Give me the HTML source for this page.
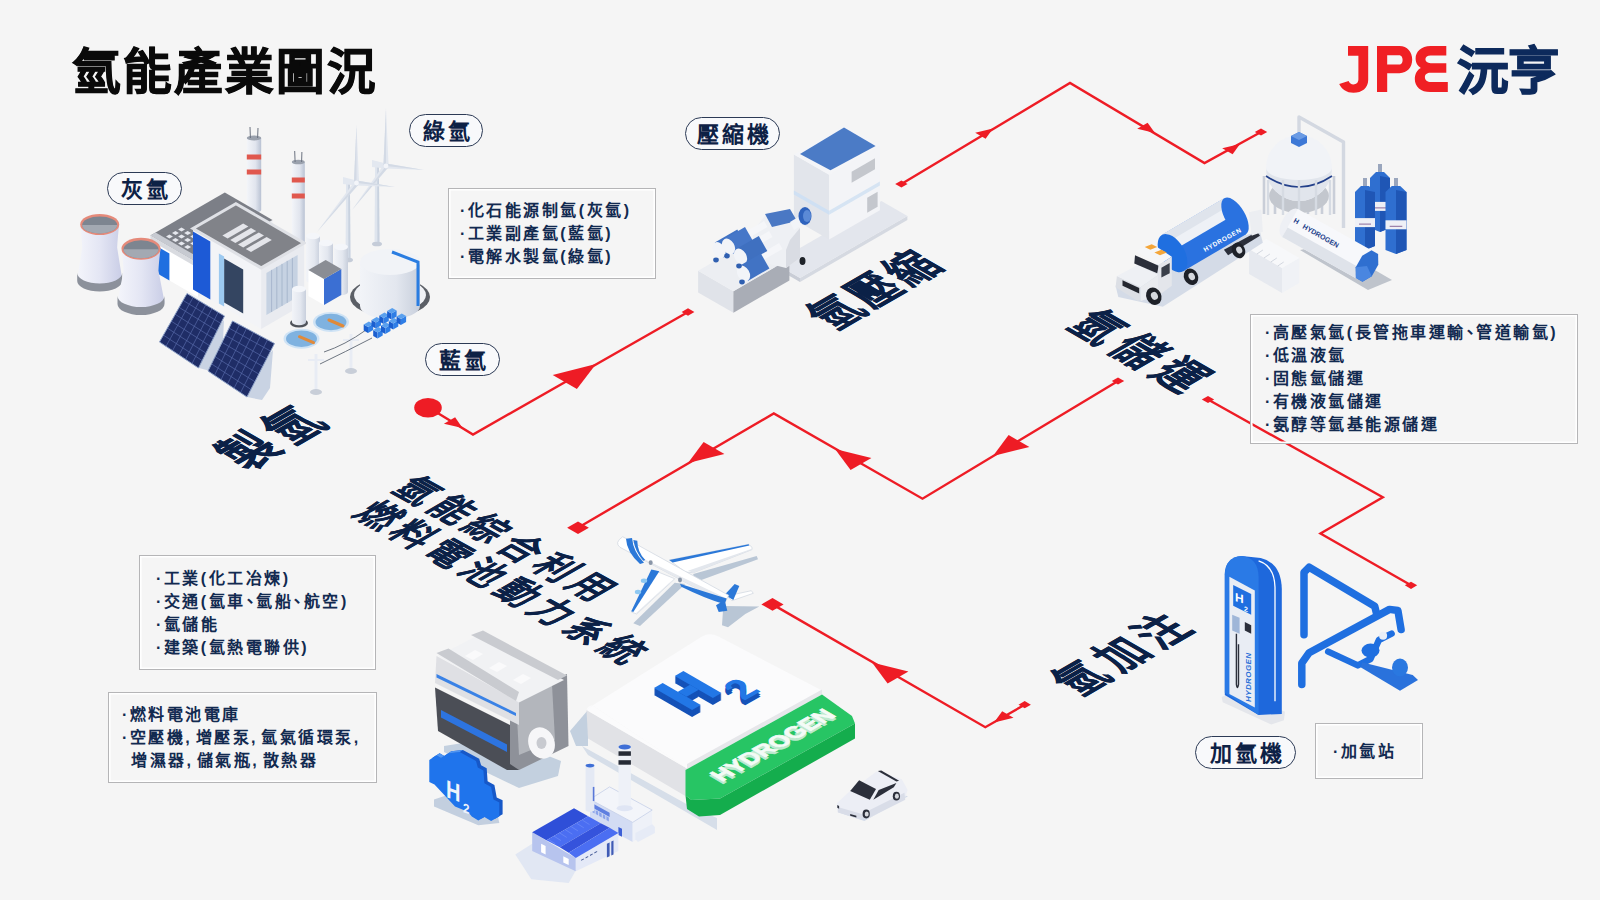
<!DOCTYPE html>
<html lang="zh-HK">
<head>
<meta charset="utf-8">
<style>
html,body{margin:0;padding:0;}
body{width:1600px;height:900px;overflow:hidden;background:#f5f5f5;position:relative;font-family:"Liberation Sans",sans-serif;}
.abs{position:absolute;}
#title{position:absolute;left:72px;top:47.5px;font-size:48.5px;font-weight:900;color:#0a0a0a;letter-spacing:2.1px;-webkit-text-stroke:0.9px #0a0a0a;line-height:1;white-space:nowrap;}
.pill{position:absolute;box-sizing:border-box;border:1.6px solid #2c3a55;border-radius:17px;background:#f8f9fb;color:#0d2145;font-weight:700;font-size:22px;letter-spacing:3px;line-height:1;display:flex;align-items:center;justify-content:center;white-space:nowrap;padding-left:3px;padding-top:2px;}
.box{position:absolute;box-sizing:border-box;border:1.3px solid #b5b5b7;box-shadow:inset 0 0 0 1.6px #ffffff;color:#122a50;font-weight:700;font-size:16px;letter-spacing:2.5px;line-height:23px;white-space:nowrap;}
.box .l{position:relative;}
.box .c{letter-spacing:5.8px;}
.box .d{margin-left:-4px;margin-right:-3.9px;}
.iso{position:absolute;left:0;top:0;transform-origin:0 0;color:#0b2147;font-weight:900;white-space:nowrap;line-height:1;-webkit-text-stroke:0.3px #0b2147;}
svg{position:absolute;left:0;top:0;}
</style>
</head>
<body>
<svg id="art" width="1600" height="900" viewBox="0 0 1600 900">
<!--ART-->
<defs>
<linearGradient id="gTower" x1="0" x2="1" y1="0" y2="0"><stop offset="0" stop-color="#f4f5fb"/><stop offset="0.5" stop-color="#e4e6f4"/><stop offset="1" stop-color="#c9cde6"/></linearGradient>
<linearGradient id="gCyl" x1="0" x2="1" y1="0" y2="0"><stop offset="0" stop-color="#f2f4f8"/><stop offset="0.6" stop-color="#e3e7ef"/><stop offset="1" stop-color="#c8cfdc"/></linearGradient>
<linearGradient id="gChim" x1="0" x2="1" y1="0" y2="0"><stop offset="0" stop-color="#f3f5f9"/><stop offset="0.6" stop-color="#e1e5ee"/><stop offset="1" stop-color="#b9c2d3"/></linearGradient>
<linearGradient id="gBlueCyl" x1="0" x2="1" y1="0" y2="0"><stop offset="0" stop-color="#3f86e8"/><stop offset="0.5" stop-color="#1f6fe0"/><stop offset="1" stop-color="#1656b8"/></linearGradient>
<linearGradient id="gGreen" x1="0" x2="1" y1="0" y2="0"><stop offset="0" stop-color="#2ecc71"/><stop offset="1" stop-color="#1fb863"/></linearGradient>
</defs>
<path d="M375.1,166.0 L374.5,244.0 L379.5,244.0 L378.9,166.0 Z" fill="#dfe5ee" />
<path d="M377.2,166.0 L377.4,244.0 L379.5,244.0 L378.9,166.0 Z" fill="#c9d2df" />
<ellipse cx="377.0" cy="244.0" rx="5.0" ry="2.3" fill="#c5ccd8" />
<polygon points="372.0,160.0 386.0,163.5 386.0,168.5 372.0,167.0" fill="#e3e8f0" />
<polygon points="388.6,166.0 386.0,108.0 383.4,166.0" fill="#e2e7ef" />
<polygon points="386.0,166.0 386.0,108.0 383.4,166.0" fill="#d3dae5" />
<polygon points="385.7,168.6 424.0,170.0 386.3,163.4" fill="#e2e7ef" />
<polygon points="386.0,166.0 424.0,170.0 386.3,163.4" fill="#d3dae5" />
<polygon points="383.9,164.4 352.0,210.0 388.1,167.6" fill="#e2e7ef" />
<polygon points="386.0,166.0 352.0,210.0 388.1,167.6" fill="#d3dae5" />
<ellipse cx="386.0" cy="166.0" rx="2.4" ry="2.4" fill="#f3f5f9" />
<path d="M346.1,183.0 L345.5,260.0 L350.5,260.0 L349.9,183.0 Z" fill="#dfe5ee" />
<path d="M348.2,183.0 L348.4,260.0 L350.5,260.0 L349.9,183.0 Z" fill="#c9d2df" />
<ellipse cx="348.0" cy="260.0" rx="5.0" ry="2.3" fill="#c5ccd8" />
<polygon points="343.0,177.0 356.5,180.5 356.5,185.5 343.0,184.0" fill="#e3e8f0" />
<polygon points="359.1,183.0 356.5,125.0 353.9,183.0" fill="#e2e7ef" />
<polygon points="356.5,183.0 356.5,125.0 353.9,183.0" fill="#d3dae5" />
<polygon points="356.2,185.6 395.0,187.0 356.8,180.4" fill="#e2e7ef" />
<polygon points="356.5,183.0 395.0,187.0 356.8,180.4" fill="#d3dae5" />
<polygon points="354.5,181.4 317.0,232.0 358.5,184.6" fill="#e2e7ef" />
<polygon points="356.5,183.0 317.0,232.0 358.5,184.6" fill="#d3dae5" />
<ellipse cx="356.5" cy="183.0" rx="2.4" ry="2.4" fill="#f3f5f9" />
<path d="M246.8,138.0 L246.8,210.0 A7.2,2.5 0 0 0 261.2,210.0 L261.2,138.0 Z" fill="url(#gChim)" />
<ellipse cx="254.0" cy="138.0" rx="7.2" ry="2.5" fill="#9aa1ad" />
<rect x="246.8" y="154.5" width="14.4" height="5.0" fill="#e0584e"/>
<rect x="246.8" y="169.5" width="14.4" height="5.0" fill="#e0584e"/>
<line x1="250.4" y1="138.0" x2="250.0" y2="127.0" stroke="#6b7280" stroke-width="1" />
<line x1="257.6" y1="138.0" x2="258.0" y2="128.0" stroke="#6b7280" stroke-width="1" />
<path d="M291.8,162.0 L291.8,242.0 A6.5,2.3 0 0 0 304.8,242.0 L304.8,162.0 Z" fill="url(#gChim)" />
<ellipse cx="298.3" cy="162.0" rx="6.5" ry="2.3" fill="#9aa1ad" />
<rect x="291.8" y="177.5" width="13.0" height="5.0" fill="#e0584e"/>
<rect x="291.8" y="193.5" width="13.0" height="5.0" fill="#e0584e"/>
<line x1="295.1" y1="162.0" x2="294.7" y2="151.0" stroke="#6b7280" stroke-width="1" />
<line x1="301.6" y1="162.0" x2="301.9" y2="152.0" stroke="#6b7280" stroke-width="1" />
<polygon points="150.4,235.5 198.0,263.0 198.0,297.0 150.4,269.5" fill="#ffffff" />
<polygon points="198.0,263.0 272.5,220.0 272.5,254.0 198.0,297.0" fill="#eceef3" />
<polygon points="198.0,263.0 150.4,235.5 224.8,192.5 272.5,220.0" fill="#7c7f87" />
<polygon points="150.4,235.5 198.0,263.0 203.2,260.0 155.6,232.5" fill="#c7cad1" />
<polygon points="155.6,245.5 169.4,253.5 169.4,280.5 155.6,272.5" fill="#1f6fe0" />
<polygon points="150.4,235.5 198.0,263.0 198.0,268.0 150.4,240.5" fill="#d9dbe0" />
<polygon points="166.0,236.5 169.4,234.5 172.9,236.5 169.4,238.5" fill="#e6e8ee" />
<polygon points="172.0,233.0 175.5,231.0 178.9,233.0 175.5,235.0" fill="#e6e8ee" />
<polygon points="178.1,229.5 181.5,227.5 185.0,229.5 181.5,231.5" fill="#e6e8ee" />
<polygon points="172.0,240.0 175.5,238.0 178.9,240.0 175.5,242.0" fill="#e6e8ee" />
<polygon points="178.1,236.5 181.5,234.5 185.0,236.5 181.5,238.5" fill="#e6e8ee" />
<polygon points="184.1,233.0 187.6,231.0 191.1,233.0 187.6,235.0" fill="#e6e8ee" />
<polygon points="178.1,243.5 181.5,241.5 185.0,243.5 181.5,245.5" fill="#e6e8ee" />
<polygon points="184.1,240.0 187.6,238.0 191.1,240.0 187.6,242.0" fill="#e6e8ee" />
<polygon points="190.2,236.5 193.7,234.5 197.1,236.5 193.7,238.5" fill="#e6e8ee" />
<polygon points="184.1,247.0 187.6,245.0 191.1,247.0 187.6,249.0" fill="#e6e8ee" />
<polygon points="190.2,243.5 193.7,241.5 197.1,243.5 193.7,245.5" fill="#e6e8ee" />
<polygon points="196.3,240.0 199.7,238.0 203.2,240.0 199.7,242.0" fill="#e6e8ee" />
<polygon points="193.0,228.5 261.2,267.9 261.2,328.9 193.0,289.5" fill="#f3f4f7" />
<polygon points="261.2,267.9 304.2,243.1 304.2,304.1 261.2,328.9" fill="#e9ebf0" />
<polygon points="261.2,267.9 193.0,228.5 235.9,203.7 304.2,243.1" fill="#818389" />
<polygon points="193.0,228.5 261.2,267.9 304.2,243.1 235.9,203.7" fill="none" stroke="#dfe1e6" stroke-width="3"/>
<polygon points="222.4,235.5 243.2,223.5 248.4,226.5 227.6,238.5" fill="#e4e5ea" />
<polygon points="230.2,240.0 251.0,228.0 256.2,231.0 235.4,243.0" fill="#e4e5ea" />
<polygon points="238.0,244.5 258.8,232.5 264.0,235.5 243.2,247.5" fill="#e4e5ea" />
<polygon points="245.8,249.0 266.6,237.0 271.8,240.0 251.0,252.0" fill="#e4e5ea" />
<polygon points="193.0,231.5 210.3,241.5 210.3,299.5 193.0,289.5" fill="#1d5ad6" />
<polygon points="224.1,258.5 243.2,269.5 243.2,313.5 224.1,302.5" fill="#344561" />
<polygon points="218.9,253.5 224.1,256.5 224.1,306.5 218.9,303.5" fill="#9cc9f0" />
<polygon points="266.4,272.9 297.6,254.9 297.6,296.9 266.4,314.9" fill="#c6d2e2" />
<line x1="271.6" y1="269.9" x2="271.6" y2="311.9" stroke="#9fb0c8" stroke-width="0.8" />
<line x1="276.8" y1="266.9" x2="276.8" y2="308.9" stroke="#9fb0c8" stroke-width="0.8" />
<line x1="282.0" y1="263.9" x2="282.0" y2="305.9" stroke="#9fb0c8" stroke-width="0.8" />
<line x1="287.2" y1="260.9" x2="287.2" y2="302.9" stroke="#9fb0c8" stroke-width="0.8" />
<line x1="292.4" y1="257.9" x2="292.4" y2="299.9" stroke="#9fb0c8" stroke-width="0.8" />
<path d="M306.0,236.0 L306.0,280.0 A7.0,3.2 0 0 0 320.0,280.0 L320.0,236.0 Z" fill="url(#gCyl)" />
<ellipse cx="313.0" cy="236.0" rx="7.0" ry="3.2" fill="#f4f6fa" />
<path d="M319.0,243.0 L319.0,287.0 A7.0,3.2 0 0 0 333.0,287.0 L333.0,243.0 Z" fill="url(#gCyl)" />
<ellipse cx="326.0" cy="243.0" rx="7.0" ry="3.2" fill="#f4f6fa" />
<path d="M334.0,247.0 L334.0,292.0 A7.0,3.2 0 0 0 348.0,292.0 L348.0,247.0 Z" fill="url(#gCyl)" />
<ellipse cx="341.0" cy="247.0" rx="7.0" ry="3.2" fill="#f4f6fa" />
<polygon points="308.4,270.0 324.0,279.0 324.0,305.0 308.4,296.0" fill="#ffffff" />
<polygon points="324.0,279.0 341.3,269.0 341.3,295.0 324.0,305.0" fill="#3b6fd3" />
<polygon points="324.0,279.0 308.4,270.0 325.7,260.0 341.3,269.0" fill="#8a8d94" />
<ellipse cx="390.0" cy="297.0" rx="40.0" ry="19.5" fill="#5b5f66" />
<ellipse cx="390.0" cy="295.0" rx="36.0" ry="17.0" fill="#f0f2f6" />
<path d="M360.0,262.0 L360.0,306.0 A30.0,13.0 0 0 0 420.0,306.0 L420.0,262.0 Z" fill="url(#gCyl)" />
<ellipse cx="390.0" cy="262.0" rx="30.0" ry="13.0" fill="#f1f3f7" />
<path d="M392,252 L418,262 L418,306" fill="none" stroke="#2a7de1" stroke-width="3"/>
<ellipse cx="299.0" cy="323.0" rx="9.0" ry="4.5" fill="#4f535a" />
<path d="M292.0,289.0 L292.0,322.0 A7.0,3.2 0 0 0 306.0,322.0 L306.0,289.0 Z" fill="url(#gCyl)" />
<ellipse cx="299.0" cy="289.0" rx="7.0" ry="3.2" fill="#f4f6fa" />
<path d="M80.2,224.5 C82.2,242.0 82.2,248.0 82.2,248.0 L77.2,279.0 A22.5,10.5 0 0 0 122.2,279.0 L117.2,248.0 C117.2,248.0 117.2,242.0 119.2,224.5 Z" fill="url(#gTower)" />
<path d="M77.2,273.0 L77.2,281.0 A22.5,10.5 0 0 0 122.2,281.0 L122.2,273.0 A22.5,10.5 0 0 1 77.2,273.0 Z" fill="#8c919b"/>
<ellipse cx="99.7" cy="224.5" rx="19.5" ry="10.5" fill="#e58a7a" />
<ellipse cx="99.7" cy="225.0" rx="17.5" ry="8.5" fill="#7d8590" />
<path d="M82.2,225.0 A17.5,8.5 0 0 0 117.2,225.0 Z" fill="#a3a9b2"/>
<path d="M121.5,248.8 C123.5,265.0 123.5,271.0 123.5,271.0 L117.5,302.0 A23.5,11.0 0 0 0 164.5,302.0 L158.5,271.0 C158.5,271.0 158.5,265.0 160.5,248.8 Z" fill="url(#gTower)" />
<path d="M117.5,296.0 L117.5,304.0 A23.5,11.0 0 0 0 164.5,304.0 L164.5,296.0 A23.5,11.0 0 0 1 117.5,296.0 Z" fill="#8c919b"/>
<ellipse cx="141.0" cy="248.8" rx="19.5" ry="11.0" fill="#e58a7a" />
<ellipse cx="141.0" cy="249.3" rx="17.5" ry="9.0" fill="#7d8590" />
<path d="M123.5,249.3 A17.5,9.0 0 0 0 158.5,249.3 Z" fill="#a3a9b2"/>
<polygon points="160.0,342.0 199.0,368.0 214.0,372.0 222.0,360.0 224.0,320.0 215.0,330.0" fill="#c9d3e3" />
<polygon points="187.0,293.5 224.5,316.0 198.5,368.0 159.5,342.0" fill="#1f2d66" />
<line x1="193.2" y1="297.2" x2="166.0" y2="346.3" stroke="#5668a8" stroke-width="0.7" />
<line x1="199.5" y1="301.0" x2="172.5" y2="350.7" stroke="#5668a8" stroke-width="0.7" />
<line x1="205.8" y1="304.8" x2="179.0" y2="355.0" stroke="#5668a8" stroke-width="0.7" />
<line x1="212.0" y1="308.5" x2="185.5" y2="359.3" stroke="#5668a8" stroke-width="0.7" />
<line x1="218.2" y1="312.2" x2="192.0" y2="363.7" stroke="#5668a8" stroke-width="0.7" />
<line x1="183.1" y1="300.4" x2="220.8" y2="323.4" stroke="#5668a8" stroke-width="0.7" />
<line x1="179.1" y1="307.4" x2="217.1" y2="330.9" stroke="#5668a8" stroke-width="0.7" />
<line x1="175.2" y1="314.3" x2="213.4" y2="338.3" stroke="#5668a8" stroke-width="0.7" />
<line x1="171.3" y1="321.2" x2="209.6" y2="345.7" stroke="#5668a8" stroke-width="0.7" />
<line x1="167.4" y1="328.1" x2="205.9" y2="353.1" stroke="#5668a8" stroke-width="0.7" />
<line x1="163.4" y1="335.1" x2="202.2" y2="360.6" stroke="#5668a8" stroke-width="0.7" />
<polygon points="187.0,293.5 224.5,316.0 198.5,368.0 159.5,342.0" fill="none" stroke="#8fa3c9" stroke-width="1"/>
<polygon points="208.0,371.0 247.0,397.0 262.0,400.0 270.0,388.0 273.0,350.0 262.0,362.0" fill="#c9d3e3" />
<polygon points="232.5,321.0 274.5,343.5 247.0,397.0 208.0,371.0" fill="#1f2d66" />
<line x1="239.5" y1="324.8" x2="214.5" y2="375.3" stroke="#5668a8" stroke-width="0.7" />
<line x1="246.5" y1="328.5" x2="221.0" y2="379.7" stroke="#5668a8" stroke-width="0.7" />
<line x1="253.5" y1="332.2" x2="227.5" y2="384.0" stroke="#5668a8" stroke-width="0.7" />
<line x1="260.5" y1="336.0" x2="234.0" y2="388.3" stroke="#5668a8" stroke-width="0.7" />
<line x1="267.5" y1="339.8" x2="240.5" y2="392.7" stroke="#5668a8" stroke-width="0.7" />
<line x1="229.0" y1="328.1" x2="270.6" y2="351.1" stroke="#5668a8" stroke-width="0.7" />
<line x1="225.5" y1="335.3" x2="266.6" y2="358.8" stroke="#5668a8" stroke-width="0.7" />
<line x1="222.0" y1="342.4" x2="262.7" y2="366.4" stroke="#5668a8" stroke-width="0.7" />
<line x1="218.5" y1="349.6" x2="258.8" y2="374.1" stroke="#5668a8" stroke-width="0.7" />
<line x1="215.0" y1="356.7" x2="254.9" y2="381.7" stroke="#5668a8" stroke-width="0.7" />
<line x1="211.5" y1="363.9" x2="250.9" y2="389.4" stroke="#5668a8" stroke-width="0.7" />
<polygon points="232.5,321.0 274.5,343.5 247.0,397.0 208.0,371.0" fill="none" stroke="#8fa3c9" stroke-width="1"/>
<ellipse cx="301.5" cy="338.7" rx="18.0" ry="10.0" fill="#cfe3f5" />
<ellipse cx="301.5" cy="338.7" rx="15.5" ry="8.3" fill="#7fb2e0" />
<line x1="299.5" y1="336.7" x2="313.5" y2="342.7" stroke="#e08a3a" stroke-width="3" stroke-linecap="round"/>
<ellipse cx="331.0" cy="322.0" rx="18.0" ry="10.0" fill="#cfe3f5" />
<ellipse cx="331.0" cy="322.0" rx="15.5" ry="8.3" fill="#7fb2e0" />
<line x1="329.0" y1="320.0" x2="343.0" y2="326.0" stroke="#e08a3a" stroke-width="3" stroke-linecap="round"/>
<line x1="316.0" y1="354.0" x2="316.0" y2="392.0" stroke="#e8ecf4" stroke-width="3" />
<line x1="308.0" y1="360.0" x2="324.0" y2="360.0" stroke="#e8ecf4" stroke-width="2" />
<ellipse cx="316.0" cy="392.0" rx="6.0" ry="3.0" fill="#c8ced8" />
<line x1="351.0" y1="334.0" x2="351.0" y2="371.0" stroke="#e8ecf4" stroke-width="3" />
<line x1="343.0" y1="340.0" x2="359.0" y2="340.0" stroke="#e8ecf4" stroke-width="2" />
<ellipse cx="351.0" cy="371.0" rx="6.0" ry="3.0" fill="#c8ced8" />
<path d="M324,352 Q345,345 366,330" fill="none" stroke="#4b5563" stroke-width="0.8"/>
<path d="M320,364 Q345,352 372,338" fill="none" stroke="#4b5563" stroke-width="0.8"/>
<polygon points="363.7,324.5 368.0,327.0 368.0,333.0 363.7,330.5" fill="#1b5fd0" />
<polygon points="368.0,327.0 373.2,324.0 373.2,330.0 368.0,333.0" fill="#2f7ee6" />
<polygon points="368.0,327.0 363.7,324.5 368.9,321.5 373.2,324.0" fill="#5aa0ee" />
<polygon points="373.2,330.0 377.5,332.5 377.5,338.5 373.2,336.0" fill="#1b5fd0" />
<polygon points="377.5,332.5 382.7,329.5 382.7,335.5 377.5,338.5" fill="#2f7ee6" />
<polygon points="377.5,332.5 373.2,330.0 378.4,327.0 382.7,329.5" fill="#5aa0ee" />
<polygon points="371.5,320.0 375.8,322.5 375.8,328.5 371.5,326.0" fill="#1b5fd0" />
<polygon points="375.8,322.5 381.0,319.5 381.0,325.5 375.8,328.5" fill="#2f7ee6" />
<polygon points="375.8,322.5 371.5,320.0 376.7,317.0 381.0,319.5" fill="#5aa0ee" />
<polygon points="381.0,325.5 385.3,328.0 385.3,334.0 381.0,331.5" fill="#1b5fd0" />
<polygon points="385.3,328.0 390.5,325.0 390.5,331.0 385.3,334.0" fill="#2f7ee6" />
<polygon points="385.3,328.0 381.0,325.5 386.2,322.5 390.5,325.0" fill="#5aa0ee" />
<polygon points="379.3,315.5 383.6,318.0 383.6,324.0 379.3,321.5" fill="#1b5fd0" />
<polygon points="383.6,318.0 388.8,315.0 388.8,321.0 383.6,324.0" fill="#2f7ee6" />
<polygon points="383.6,318.0 379.3,315.5 384.5,312.5 388.8,315.0" fill="#5aa0ee" />
<polygon points="388.8,321.0 393.1,323.5 393.1,329.5 388.8,327.0" fill="#1b5fd0" />
<polygon points="393.1,323.5 398.3,320.5 398.3,326.5 393.1,329.5" fill="#2f7ee6" />
<polygon points="393.1,323.5 388.8,321.0 394.0,318.0 398.3,320.5" fill="#5aa0ee" />
<polygon points="387.1,311.0 391.4,313.5 391.4,319.5 387.1,317.0" fill="#1b5fd0" />
<polygon points="391.4,313.5 396.6,310.5 396.6,316.5 391.4,319.5" fill="#2f7ee6" />
<polygon points="391.4,313.5 387.1,311.0 392.2,308.0 396.6,310.5" fill="#5aa0ee" />
<polygon points="396.6,316.5 400.9,319.0 400.9,325.0 396.6,322.5" fill="#1b5fd0" />
<polygon points="400.9,319.0 406.1,316.0 406.1,322.0 400.9,325.0" fill="#2f7ee6" />
<polygon points="400.9,319.0 396.6,316.5 401.8,313.5 406.1,316.0" fill="#5aa0ee" />
<polygon points="774.0,263.0 800.0,278.0 800.0,282.0 774.0,267.0" fill="#c9cdd6" />
<polygon points="800.0,278.0 907.4,216.0 907.4,220.0 800.0,282.0" fill="#d5d9e1" />
<polygon points="800.0,278.0 774.0,263.0 881.4,201.0 907.4,216.0" fill="#e3e6ed" />
<polygon points="793.9,154.5 829.1,174.8 829.1,239.5 793.9,219.2" fill="#e2e5eb" />
<polygon points="829.1,174.8 879.9,145.5 879.9,210.2 829.1,239.5" fill="#f3f4f7" />
<polygon points="829.1,174.8 793.9,154.5 844.8,125.2 879.9,145.5" fill="#f4f5f8" />
<polygon points="800.0,153.9 830.5,170.3 875.6,145.9 844.0,127.6" fill="#4b7bc6" />
<polygon points="793.9,190.5 829.1,210.8 829.1,214.8 793.9,194.5" fill="#cfe0f3" />
<polygon points="829.1,210.8 879.9,181.5 879.9,185.5 829.1,214.8" fill="#d6e4f3" />
<polygon points="851.6,171.8 875.0,158.3 875.0,169.3 851.6,182.8" fill="#c4c7cd" />
<polygon points="867.2,197.8 877.6,191.8 877.6,206.8 867.2,212.8" fill="#c4c7cd" />
<polygon points="698.1,270.8 733.4,291.2 733.4,312.8 698.1,292.4" fill="#e0e3e9" />
<polygon points="733.4,291.2 789.4,258.8 789.4,280.4 733.4,312.8" fill="#a9adb6" />
<polygon points="733.4,291.2 698.1,270.8 754.1,238.5 789.4,258.8" fill="#eceef2" />
<polygon points="753.0,231.0 768.0,212.0 790.0,214.0 800.0,228.0 800.0,258.0 786.0,268.0 762.0,262.0 753.0,248.0" fill="#eef0f4" />
<polygon points="786.0,268.0 800.0,258.0 800.0,228.0 790.0,240.0 786.0,250.0" fill="#d9dce3" />
<polygon points="765.0,214.0 790.0,209.0 797.0,221.0 772.0,227.0" fill="#4a78c4" />
<polygon points="790.0,222.0 805.0,213.0 809.0,221.0 794.0,230.0" fill="#f2f4f8" />
<ellipse cx="805.0" cy="216.0" rx="6.5" ry="9.0" fill="#2f63bd" />
<ellipse cx="807.0" cy="216.0" rx="4.0" ry="6.0" fill="#5b8ad6" />
<ellipse cx="802.5" cy="261.0" rx="3.0" ry="4.0" fill="#1f2329" />
<polygon points="743.3,233.1 764.1,221.1 767.5,226.9 746.7,238.9" fill="#f5f6f9" />
<ellipse cx="745.0" cy="236.0" rx="2.4" ry="3.4" fill="#dfe2e8" transform="rotate(-30 745.0 236.0)"/>
<polygon points="748.3,243.1 769.1,231.1 772.5,236.9 751.7,248.9" fill="#f5f6f9" />
<ellipse cx="750.0" cy="246.0" rx="2.4" ry="3.4" fill="#dfe2e8" transform="rotate(-30 750.0 246.0)"/>
<polygon points="758.3,255.1 779.1,243.1 782.5,248.9 761.7,260.9" fill="#f5f6f9" />
<ellipse cx="760.0" cy="258.0" rx="2.4" ry="3.4" fill="#dfe2e8" transform="rotate(-30 760.0 258.0)"/>
<polygon points="714.8,242.6 737.3,229.6 745.8,244.4 723.2,257.4" fill="#4173c4" />
<ellipse cx="719.0" cy="250.0" rx="5.9" ry="8.5" fill="#f2f4f8" transform="rotate(-30 719.0 250.0)"/>
<polygon points="724.2,239.1 745.0,227.1 753.5,241.9 732.8,253.9" fill="#4677c8" />
<ellipse cx="728.5" cy="246.5" rx="5.9" ry="8.5" fill="#f2f4f8" transform="rotate(-30 728.5 246.5)"/>
<polygon points="736.2,249.1 758.8,236.1 767.3,250.9 744.8,263.9" fill="#3f70c0" />
<ellipse cx="740.5" cy="256.5" rx="5.9" ry="8.5" fill="#f2f4f8" transform="rotate(-30 740.5 256.5)"/>
<polygon points="739.2,266.1 760.9,253.6 769.4,268.4 747.8,280.9" fill="#4173c4" />
<ellipse cx="743.5" cy="273.5" rx="5.9" ry="8.5" fill="#f2f4f8" transform="rotate(-30 743.5 273.5)"/>
<ellipse cx="716.0" cy="260.0" rx="2.8" ry="2.4" fill="#2f5fb0" />
<ellipse cx="727.0" cy="256.0" rx="2.8" ry="2.4" fill="#2f5fb0" />
<ellipse cx="739.0" cy="266.0" rx="2.8" ry="2.4" fill="#2f5fb0" />
<ellipse cx="742.0" cy="282.0" rx="2.8" ry="2.4" fill="#2f5fb0" />
<path d="M1299,140 L1299,117 L1343.5,142 L1343.5,228" fill="none" stroke="#d3d8e1" stroke-width="3.4" stroke-linejoin="round"/>
<line x1="1264.0" y1="176.0" x2="1264.0" y2="214.0" stroke="#c9ced8" stroke-width="2.6" />
<line x1="1275.0" y1="176.0" x2="1275.0" y2="214.0" stroke="#c9ced8" stroke-width="2.6" />
<line x1="1290.0" y1="176.0" x2="1290.0" y2="214.0" stroke="#c9ced8" stroke-width="2.6" />
<line x1="1308.0" y1="176.0" x2="1308.0" y2="214.0" stroke="#c9ced8" stroke-width="2.6" />
<line x1="1322.0" y1="176.0" x2="1322.0" y2="214.0" stroke="#c9ced8" stroke-width="2.6" />
<line x1="1334.0" y1="176.0" x2="1334.0" y2="214.0" stroke="#c9ced8" stroke-width="2.6" />
<ellipse cx="1299.0" cy="196.0" rx="30.0" ry="17.0" fill="#c3c7ce" />
<circle cx="1299" cy="168" r="33" fill="#f1f3f7"/>
<path d="M1266,168 A33,33 0 0 0 1332,168 A33,12 0 0 1 1266,168 Z" fill="#e1e5ec"/>
<path d="M1266,176 Q1299,198 1332,176" fill="none" stroke="#23408a" stroke-width="1.6"/>
<line x1="1268.0" y1="180.0" x2="1268.0" y2="215.0" stroke="#d6dbe3" stroke-width="2.4" />
<line x1="1283.0" y1="180.0" x2="1283.0" y2="215.0" stroke="#d6dbe3" stroke-width="2.4" />
<line x1="1299.0" y1="180.0" x2="1299.0" y2="215.0" stroke="#d6dbe3" stroke-width="2.4" />
<line x1="1316.0" y1="180.0" x2="1316.0" y2="215.0" stroke="#d6dbe3" stroke-width="2.4" />
<line x1="1330.0" y1="180.0" x2="1330.0" y2="215.0" stroke="#d6dbe3" stroke-width="2.4" />
<polygon points="1291.0,136.0 1299.0,132.0 1307.0,136.0 1307.0,143.0 1299.0,147.0 1291.0,143.0" fill="#3d78d6" />
<polygon points="1291.0,136.0 1299.0,132.0 1307.0,136.0 1299.0,140.0" fill="#6b9be4" />
<polygon points="1370.0,178.0 1376.0,172.0 1384.0,172.0 1390.0,178.0 1390.0,228.0 1380.0,232.0 1370.0,228.0" fill="#2f6fd0" />
<polygon points="1380.0,176.0 1390.0,178.0 1390.0,228.0 1380.0,232.0" fill="#1f56b5" />
<rect x="1370.0" y="201.9" width="20.0" height="9" fill="#eef0f6"/>
<line x1="1374.0" y1="207.9" x2="1386.0" y2="207.9" stroke="#8a6a9a" stroke-width="1" />
<rect x="1378.0" y="164.0" width="4" height="8" fill="#9aa6bd"/>
<polygon points="1355.0,192.0 1361.0,186.0 1369.0,186.0 1375.0,192.0 1375.0,246.0 1365.0,250.0 1355.0,246.0" fill="#2f6fd0" />
<polygon points="1365.0,190.0 1375.0,192.0 1375.0,246.0 1365.0,250.0" fill="#1f56b5" />
<rect x="1355.0" y="218.1" width="20.0" height="9" fill="#eef0f6"/>
<line x1="1359.0" y1="224.1" x2="1371.0" y2="224.1" stroke="#8a6a9a" stroke-width="1" />
<rect x="1363.0" y="178.0" width="4" height="8" fill="#9aa6bd"/>
<polygon points="1385.5,192.0 1391.8,186.0 1400.2,186.0 1406.5,192.0 1406.5,250.0 1396.0,254.0 1385.5,250.0" fill="#2f6fd0" />
<polygon points="1396.0,190.0 1406.5,192.0 1406.5,250.0 1396.0,254.0" fill="#1f56b5" />
<rect x="1385.5" y="220.3" width="21.0" height="9" fill="#eef0f6"/>
<line x1="1389.7" y1="226.3" x2="1402.3" y2="226.3" stroke="#8a6a9a" stroke-width="1" />
<rect x="1394.0" y="178.0" width="4" height="8" fill="#9aa6bd"/>
<polygon points="1300.0,250.0 1368.0,290.0 1392.0,280.0 1330.0,244.0" fill="#bfc4cc" />
<ellipse cx="1290.0" cy="223.0" rx="8.0" ry="16.0" fill="#eef0f5" transform="rotate(29.2 1290.0 223.0)"/>
<polygon points="1297.8,209.0 1372.8,251.0 1357.2,279.0 1282.2,237.0" fill="#f7f8fb" />
<polygon points="1287.6,227.4 1362.6,269.4 1357.2,279.0 1282.2,237.0" fill="#dfe3ea" />
<polygon points="1371.8,276.3 1362.5,281.8 1355.9,278.1 1355.7,267.3 1362.2,255.7 1371.5,250.2 1378.1,253.9 1378.3,264.7" fill="#2f6fd0" />
<polygon points="1367.0,266.0 1371.8,276.3 1362.5,281.8 1355.9,278.1 1355.7,267.3" fill="#4a86e0" />
<text x="0" y="0" font-size="7" font-weight="700" fill="#23408a" transform="translate(1302,228) rotate(29.5)">HYDROGEN</text>
<text x="0" y="0" font-size="7" font-weight="700" fill="#23408a" transform="translate(1293,222) rotate(29.5)">H</text>
<polygon points="1249.1,249.0 1282.0,268.0 1282.0,293.0 1249.1,274.0" fill="#e6e9ef" />
<polygon points="1282.0,268.0 1299.3,258.0 1299.3,283.0 1282.0,293.0" fill="#f0f2f6" />
<polygon points="1282.0,268.0 1249.1,249.0 1266.4,239.0 1299.3,258.0" fill="#f7f8fa" />
<line x1="1256.9" y1="254.0" x2="1262.9" y2="250.0" stroke="#c9ced8" stroke-width="0.8" />
<line x1="1263.9" y1="258.0" x2="1269.9" y2="254.0" stroke="#c9ced8" stroke-width="0.8" />
<line x1="1270.8" y1="262.0" x2="1276.8" y2="258.0" stroke="#c9ced8" stroke-width="0.8" />
<line x1="1277.7" y1="266.0" x2="1283.7" y2="262.0" stroke="#c9ced8" stroke-width="0.8" />
<polygon points="1115.6,285.8 1187.8,248.3 1260.0,231.7 1262.8,242.8 1162.8,306.7 1118.3,296.9" fill="#d4dbe7" />
<polygon points="1223.9,249.7 1257.2,231.7 1260.0,235.8 1228.1,255.3" fill="#2b2f3a" />
<polygon points="1248.9,212.2 1261.4,209.4 1262.8,231.7 1251.7,235.8" fill="#eceef2" />
<polygon points="1161.8,235.1 1224.3,198.3 1245.7,234.5 1183.2,271.3" fill="#2a72e0" />
<polygon points="1161.8,235.1 1224.3,198.3 1234.0,214.7 1171.5,251.5" fill="#eef1f6" />
<polygon points="1161.8,235.1 1224.3,198.3 1228.9,206.0 1166.4,242.9" fill="#dfe4ec" />
<ellipse cx="1235.0" cy="216.4" rx="10.0" ry="21.0" fill="#2a72e0" transform="rotate(-30.5 1235.0 216.4)"/>
<ellipse cx="1172.5" cy="253.2" rx="12.0" ry="21.0" fill="#1f6fe0" transform="rotate(-30.5 1172.5 253.2)"/>
<text x="0" y="0" font-size="6.5" font-weight="700" fill="#ffffff" letter-spacing="0.6" transform="translate(1205,252) rotate(-29)">HYDROGEN</text>
<polygon points="1115.6,287.2 1116.9,276.1 1140.6,287.2 1140.6,299.7 1137.8,301.1" fill="#dcdfe5" />
<polygon points="1122.5,280.3 1139.2,287.9 1139.2,293.5 1122.5,285.8" fill="#24272f" />
<polygon points="1116.9,276.1 1137.8,265.0 1158.6,274.7 1140.6,287.2" fill="#eef0f4" />
<polygon points="1137.8,265.0 1135.0,255.3 1158.6,265.7 1158.6,274.7" fill="#e6e8ed" />
<polygon points="1135.0,255.3 1158.6,265.7 1157.2,273.3 1134.3,263.6" fill="#2b2f3a" />
<polygon points="1135.7,251.1 1151.7,243.5 1171.8,256.7 1158.6,265.0" fill="#f5f6f8" />
<polygon points="1144.7,246.9 1151.7,244.2 1157.2,246.9 1150.3,249.7" fill="#f4a63a" />
<polygon points="1154.4,252.5 1161.4,249.7 1166.9,252.5 1160.0,255.3" fill="#f4a63a" />
<polygon points="1158.6,265.0 1171.8,256.7 1171.8,285.8 1158.6,295.6" fill="#e4e6eb" />
<polygon points="1161.4,267.8 1169.7,262.9 1169.7,273.3 1161.4,277.5" fill="#3a3f4a" />
<polygon points="1140.6,287.2 1158.6,274.7 1158.6,295.6 1140.6,301.1" fill="#e9ebef" />
<ellipse cx="1153.8" cy="296.2" rx="7.5" ry="9.0" fill="#1e2128" transform="rotate(-25 1153.8 296.2)"/>
<ellipse cx="1154.5" cy="296.2" rx="3.4" ry="4.0" fill="#d5d8de" transform="rotate(-25 1153.8 296.2)"/>
<ellipse cx="1191.0" cy="276.8" rx="7.0" ry="8.5" fill="#1e2128" transform="rotate(-25 1191.0 276.8)"/>
<ellipse cx="1191.8" cy="276.8" rx="3.1" ry="3.8" fill="#d5d8de" transform="rotate(-25 1191.0 276.8)"/>
<ellipse cx="1238.5" cy="250.4" rx="6.5" ry="8.0" fill="#1e2128" transform="rotate(-25 1238.5 250.4)"/>
<ellipse cx="1239.3" cy="250.4" rx="2.9" ry="3.6" fill="#d5d8de" transform="rotate(-25 1238.5 250.4)"/>
<polygon points="693.3,574.0 756.7,556.0 758.0,559.3 701.3,580.0 693.3,578.7" fill="#b9c6d5" />
<polygon points="674.7,582.7 685.3,584.0 640.0,626.0 633.3,623.3" fill="#b9c6d5" />
<polygon points="723.3,606.0 759.3,606.4 745.3,614.0 728.0,627.3 722.0,625.3" fill="#b9c6d5" />
<polygon points="669.3,560.0 748.7,544.3 752.0,547.3 752.0,549.6 693.3,572.7 685.3,572.0" fill="#ffffff" stroke="#d3d9e2" stroke-width="0.8"/>
<polygon points="669.3,560.0 748.7,544.3 749.3,545.6 672.7,562.4" fill="#2b78d8" />
<polygon points="688.0,570.7 752.0,548.7 752.0,549.6 693.3,572.7" fill="#e3e7ed" />
<polygon points="653.3,570.0 674.7,578.7 670.7,582.7 636.7,614.0 631.3,612.0" fill="#ffffff" stroke="#d3d9e2" stroke-width="0.8"/>
<polygon points="651.3,569.6 659.3,571.3 633.3,612.0 631.3,611.3" fill="#2b78d8" />
<polygon points="669.3,582.7 672.7,580.0 637.3,614.0 636.0,613.3" fill="#e3e7ed" />
<ellipse cx="644.0" cy="580.7" rx="3.2" ry="2.2" fill="#8ec8f2" />
<ellipse cx="638.0" cy="592.0" rx="3.2" ry="2.2" fill="#8ec8f2" />
<polygon points="726.7,596.0 751.3,590.7 753.3,593.3 732.0,600.7" fill="#ffffff" stroke="#d3d9e2" stroke-width="0.8"/>
<polygon points="724.7,594.7 734.7,584.0 739.3,586.0 733.3,600.0" fill="#2b78d8" />
<polygon points="716.0,605.3 724.7,600.0 727.3,610.7 718.7,612.0" fill="#2b78d8" />
<path d="M622.7,536.7 L728.7,595.3 L724.7,603.3 L620.0,547.3 Q614.0,542.7 622.7,536.7 Z" fill="#ffffff" stroke="#d3d9e2" stroke-width="0.8"/>
<path d="M620.0,547.3 L724.7,603.3 L727.3,598.7 L626.7,550.7 Z" fill="#e6e9ee" />
<path d="M680.0,583.7 Q705.3,592.0 726.7,598.4 L724.7,604.3 Q704.0,598.0 681.3,586.7 Z" fill="#2b78d8" />
<path d="M626.0,538.7 L632.0,538.0 Q633.3,552.0 644.0,562.7 L640.0,564.0 Q626.7,552.0 626.0,538.7 Z" fill="#2b78d8" />
<path d="M633.3,540.0 L637.3,540.7 Q637.3,552.0 645.3,560.0 L643.3,560.7 Q635.3,552.0 633.3,540.0 Z" fill="#2b78d8" />
<ellipse cx="650.7" cy="562.7" rx="2.0" ry="2.4" fill="#8a96a8" />
<ellipse cx="680.0" cy="580.0" rx="2.0" ry="2.4" fill="#8a96a8" />
<polygon points="444.0,746.0 501.0,737.0 561.0,761.0 558.0,776.0 519.0,788.0 444.0,752.0" fill="#c3d0df" />
<polygon points="435.0,687.5 513.0,726.5 519.0,770.0 507.0,770.0 438.0,731.0" fill="#4b4e56" />
<polygon points="441.0,710.0 507.0,744.5 507.0,752.0 441.0,717.5" fill="#2d74e0" />
<polygon points="510.0,695.0 567.0,674.0 568.5,746.0 519.0,770.0 510.0,764.0" fill="#8e9199" />
<polygon points="516.0,698.0 552.0,684.5 555.0,740.0 519.0,755.0" fill="#b3b6bc" />
<polygon points="436.5,656.0 519.0,701.0 519.0,725.0 435.0,683.0" fill="#dfe0e4" />
<polygon points="438.0,656.0 478.5,635.0 564.0,680.0 519.0,702.5" fill="#f1f2f4" />
<polygon points="436.5,674.0 516.0,713.0 516.0,716.0 436.5,677.6" fill="#3a82e6" />
<polygon points="465.0,656.0 475.0,650.0 483.0,654.0 473.0,660.0" fill="#fafafb" />
<polygon points="489.0,668.0 499.0,662.0 507.0,666.0 497.0,672.0" fill="#fafafb" />
<polygon points="513.0,680.0 523.0,674.0 531.0,678.0 521.0,684.0" fill="#fafafb" />
<polygon points="471.0,635.0 483.0,630.5 567.0,675.5 558.0,680.0" fill="#c9cbd0" />
<polygon points="436.5,653.0 448.5,648.5 519.0,692.0 516.0,701.0" fill="#c9cbd0" />
<ellipse cx="541.5" cy="743.0" rx="13.0" ry="16.0" fill="#f6f6f8" transform="rotate(-20 541.5 743.0)"/>
<ellipse cx="541.5" cy="743.0" rx="5.0" ry="6.0" fill="#c8cad0" />
<polygon points="434.0,799.6 455.0,792.6 497.0,811.3 499.3,822.9 478.3,825.2 434.0,806.6" fill="#c3cfdf" />
<polygon points="432.6,757.8 439.6,753.2 444.3,756.0 451.3,751.3 462.9,749.9 479.2,758.8 481.1,765.3 486.7,768.3 487.6,781.2 494.4,784.9 496.7,797.5 502.6,800.3 502.6,814.3 494.4,819.0 487.6,815.0 481.6,818.5 475.0,814.3 471.1,809.6 458.3,804.5 437.7,782.3 432.6,780.0" fill="#1658c8" />
<polygon points="429.3,759.9 436.3,755.3 441.0,758.1 448.0,753.4 459.7,752.0 476.0,760.9 477.8,767.4 483.4,770.4 484.4,783.3 491.1,787.0 493.5,799.6 499.3,802.4 499.3,816.4 491.1,821.0 484.4,817.1 478.3,820.6 471.8,816.4 467.8,811.7 455.0,806.6 434.5,784.4 429.3,782.1" fill="#1f74ec" />
<polygon points="429.3,759.9 436.3,755.3 441.0,758.1 448.0,753.4 459.7,752.0 462.9,749.9 451.3,751.3 444.3,756.0 439.6,753.2 432.6,757.8" fill="#4d95f4" />
<text x="0" y="0" font-size="25" font-weight="700" fill="#eef3fb" transform="translate(446,797) matrix(0.8,0.3,0,1,0,0)">H</text>
<text x="0" y="0" font-size="13" font-weight="700" fill="#eef3fb" transform="translate(463,812) matrix(0.9,0.3,0,1,0,0)">2</text>
<polygon points="570.0,731.0 588.0,710.0 588.0,746.0 576.0,746.0" fill="#c3d0df" />
<polygon points="582.0,746.0 690.0,806.0 717.0,818.0 717.0,830.0 588.0,755.0" fill="#d6dee9" />
<polygon points="586.5,710.0 687.0,768.5 687.0,797.0 588.0,738.5" fill="#e1e2e6" />
<path d="M592.5,705.5 L702.0,636.5 Q709.5,632.0 718.5,636.5 L822.0,690.5 L687.0,768.5 Z" fill="#fbfbfc" />
<path d="M586.5,710.0 Q588.0,705.5 592.5,705.5 Z" fill="#fbfbfc" />
<polygon points="586.5,710.0 592.5,705.5 687.0,768.5" fill="#fbfbfc" />
<polygon points="687.0,764.0 822.0,689.6 822.0,694.4 687.0,769.4" fill="#e6e7ea" />
<polygon points="685.5,770.0 822.0,694.4 852.0,716.0 855.0,723.5 720.0,798.5 691.5,800.0 685.5,795.5" fill="#27c564" />
<polygon points="685.5,795.5 691.5,800.0 720.0,798.5 855.0,723.5 855.0,738.5 720.0,815.0 699.0,816.5 687.0,809.0" fill="#14ad4d" />
<text x="0" y="0" font-size="23" font-weight="900" fill="#bfe9cf" stroke="#bfe9cf" stroke-width="0.8" transform="translate(722,784.5) matrix(0.866,-0.5,0.866,0.5,0,0)">HYDROGEN</text>
<text x="0" y="0" font-size="23" font-weight="900" fill="#f4fbf6" stroke="#f4fbf6" stroke-width="0.8" transform="translate(722,782) matrix(0.866,-0.5,0.866,0.5,0,0)">HYDROGEN</text>
<polygon points="654.0,695.0 662.7,690.0 700.8,712.0 692.1,717.0" fill="#1552b8" />
<polygon points="674.8,683.0 683.4,678.0 721.5,700.0 712.9,705.0" fill="#1552b8" />
<polygon points="677.9,698.8 690.0,691.8 698.7,696.8 686.6,703.8" fill="#1552b8" />
<polygon points="654.0,694.0 662.7,689.0 700.8,711.0 692.1,716.0" fill="#1552b8" />
<polygon points="674.8,682.0 683.4,677.0 721.5,699.0 712.9,704.0" fill="#1552b8" />
<polygon points="677.9,697.8 690.0,690.8 698.7,695.8 686.6,702.8" fill="#1552b8" />
<polygon points="654.0,693.0 662.7,688.0 700.8,710.0 692.1,715.0" fill="#1552b8" />
<polygon points="674.8,681.0 683.4,676.0 721.5,698.0 712.9,703.0" fill="#1552b8" />
<polygon points="677.9,696.8 690.0,689.8 698.7,694.8 686.6,701.8" fill="#1552b8" />
<polygon points="654.0,692.0 662.7,687.0 700.8,709.0 692.1,714.0" fill="#1552b8" />
<polygon points="674.8,680.0 683.4,675.0 721.5,697.0 712.9,702.0" fill="#1552b8" />
<polygon points="677.9,695.8 690.0,688.8 698.7,693.8 686.6,700.8" fill="#1552b8" />
<polygon points="654.0,691.0 662.7,686.0 700.8,708.0 692.1,713.0" fill="#1552b8" />
<polygon points="674.8,679.0 683.4,674.0 721.5,696.0 712.9,701.0" fill="#1552b8" />
<polygon points="677.9,694.8 690.0,687.8 698.7,692.8 686.6,699.8" fill="#1552b8" />
<polygon points="654.0,690.0 662.7,685.0 700.8,707.0 692.1,712.0" fill="#1552b8" />
<polygon points="674.8,678.0 683.4,673.0 721.5,695.0 712.9,700.0" fill="#1552b8" />
<polygon points="677.9,693.8 690.0,686.8 698.7,691.8 686.6,698.8" fill="#1552b8" />
<polygon points="654.0,689.0 662.7,684.0 700.8,706.0 692.1,711.0" fill="#1552b8" />
<polygon points="674.8,677.0 683.4,672.0 721.5,694.0 712.9,699.0" fill="#1552b8" />
<polygon points="677.9,692.8 690.0,685.8 698.7,690.8 686.6,697.8" fill="#1552b8" />
<polygon points="654.0,688.0 662.7,683.0 700.8,705.0 692.1,710.0" fill="#2277e6" />
<polygon points="674.8,676.0 683.4,671.0 721.5,693.0 712.9,698.0" fill="#2277e6" />
<polygon points="677.9,691.8 690.0,684.8 698.7,689.8 686.6,696.8" fill="#2277e6" />
<text x="0" y="0" font-size="40" font-weight="900" fill="#1552b8" transform="translate(744,706) matrix(0.80,-0.46,0.866,0.5,0,0)">2</text>
<text x="0" y="0" font-size="40" font-weight="900" fill="#1552b8" transform="translate(744,704) matrix(0.80,-0.46,0.866,0.5,0,0)">2</text>
<text x="0" y="0" font-size="40" font-weight="900" fill="#2277e6" transform="translate(744,701) matrix(0.80,-0.46,0.866,0.5,0,0)">2</text>
<polygon points="515.3,854.4 532.2,843.8 575.8,870.4 568.7,882.9 531.3,879.3" fill="#e1e7f3" />
<polygon points="590.0,799.3 609.6,786.9 652.2,810.0 632.7,822.4" fill="#f3f5fa" />
<polygon points="590.0,799.3 632.7,822.4 632.7,842.0 590.0,818.9" fill="#d3dcf3" />
<polygon points="632.7,822.4 652.2,810.0 652.2,829.6 632.7,842.0" fill="#eef1f8" />
<polygon points="591.8,802.9 609.6,812.7 609.6,817.1 591.8,807.3" fill="#5f7fe0" />
<polygon points="592.1,808.2 594.6,809.6 594.6,813.6 592.1,812.1" fill="#8aa3ea" />
<polygon points="595.7,810.2 598.2,811.6 598.2,815.5 595.7,814.1" fill="#8aa3ea" />
<polygon points="599.2,812.1 601.7,813.6 601.7,817.5 599.2,816.0" fill="#8aa3ea" />
<polygon points="602.8,814.1 605.3,815.5 605.3,819.4 602.8,818.0" fill="#8aa3ea" />
<polygon points="606.4,816.0 608.8,817.5 608.8,821.4 606.4,820.0" fill="#8aa3ea" />
<polygon points="590.0,799.3 609.6,786.9 652.2,810.0 632.7,822.4" fill="none" stroke="#c5cfe8" stroke-width="0.8"/>
<polygon points="635.3,833.1 652.2,824.2 654.9,826.9 654.9,833.1 638.0,842.0 635.3,839.3" fill="#e6ebf6" />
<polygon points="618.4,826.9 622.0,828.7 622.0,836.7 618.4,834.9" fill="#3d5fd6" />
<path d="M585.6,765.6 L585.6,810.0 A4.4,1.8 0 0 0 594.4,810.0 L594.4,765.6 Z" fill="#e4e9f4" />
<ellipse cx="590.0" cy="765.6" rx="4.4" ry="1.8" fill="#3f6fd6" />
<path d="M593.6,786.9 L593.6,801.1" stroke="#5a78d8" stroke-width="1.6"/>
<path d="M618.5,746.9 L618.5,808.2 A6.2,2.5 0 0 0 630.9,808.2 L630.9,746.9 Z" fill="#eef1f8" />
<ellipse cx="624.7" cy="746.9" rx="6.2" ry="2.5" fill="#3f6fd6" />
<rect x="618.5" y="751.3" width="12.4" height="4.5" fill="#262b36"/>
<rect x="618.5" y="760.2" width="12.4" height="4.5" fill="#262b36"/>
<ellipse cx="624.7" cy="808.2" rx="8.0" ry="3.0" fill="#dfe5f4" />
<polygon points="532.2,832.2 575.8,858.0 575.8,871.3 532.2,850.9" fill="#b7c4ee" />
<polygon points="575.8,858.0 618.4,833.1 618.4,850.9 575.8,871.3" fill="#e4e9f7" />
<polygon points="541.1,843.8 545.6,845.9 545.6,854.4 541.1,852.3" fill="#ffffff" />
<polygon points="563.3,856.2 568.7,859.1 568.7,865.1 563.3,862.4" fill="#ffffff" />
<polygon points="581.1,859.8 583.8,858.4 583.8,859.4 581.1,860.8" fill="#4a5f9a" />
<polygon points="585.6,857.3 588.2,855.9 588.2,856.9 585.6,858.4" fill="#4a5f9a" />
<polygon points="590.0,854.8 592.7,853.4 592.7,854.4 590.0,855.9" fill="#4a5f9a" />
<polygon points="594.4,852.3 597.1,850.9 597.1,852.0 594.4,853.4" fill="#4a5f9a" />
<polygon points="606.9,843.8 609.6,842.4 609.6,856.2 606.9,857.6" fill="#3f5bb5" />
<polygon points="611.3,841.6 613.5,840.6 613.5,854.4 611.3,855.5" fill="#3f5bb5" />
<polygon points="532.2,832.2 574.0,808.2 588.2,816.2 546.4,840.2" fill="#2f4fd8" />
<polygon points="546.4,840.2 588.2,816.2 600.7,823.3 559.8,847.3" fill="#4b6ef2" />
<polygon points="559.8,847.3 600.7,823.3 609.6,827.8 568.7,852.7" fill="#3553dc" />
<polygon points="568.7,852.7 609.6,827.8 618.4,833.1 575.8,858.0" fill="#4b6ef2" />
<line x1="548.2" y1="839.3" x2="555.3" y2="843.8" stroke="#6f8cf6" stroke-width="0.7"/>
<line x1="553.9" y1="836.1" x2="561.0" y2="840.6" stroke="#6f8cf6" stroke-width="0.7"/>
<line x1="559.6" y1="832.9" x2="566.7" y2="837.4" stroke="#6f8cf6" stroke-width="0.7"/>
<line x1="565.3" y1="829.7" x2="572.4" y2="834.2" stroke="#6f8cf6" stroke-width="0.7"/>
<line x1="571.0" y1="826.5" x2="578.1" y2="831.0" stroke="#6f8cf6" stroke-width="0.7"/>
<line x1="576.7" y1="823.3" x2="583.8" y2="827.8" stroke="#6f8cf6" stroke-width="0.7"/>
<line x1="582.4" y1="820.1" x2="589.5" y2="824.6" stroke="#6f8cf6" stroke-width="0.7"/>
<polygon points="837.8,812.2 864.4,821.1 908.0,796.2 882.2,790.0" fill="#d3dbe9" />
<polygon points="836.9,803.3 849.3,791.8 876.9,771.3 901.8,779.3 907.6,790.0 904.4,799.8 869.8,817.6 857.3,818.4 837.8,811.3" fill="#eceef5" />
<polygon points="837.8,806.9 861.8,814.0 904.4,792.7 905.3,799.8 869.8,817.6 857.3,818.4 837.8,812.2" fill="#d9dde8" />
<polygon points="850.2,790.9 859.1,780.2 876.0,789.1 869.8,799.8" fill="#2b2f3b" />
<polygon points="873.3,799.8 878.7,790.0 896.4,782.9 893.8,787.3" fill="#2b2f3b" />
<polygon points="877.8,770.9 881.3,770.4 899.1,780.7 896.4,781.6" fill="#2b2f3b" />
<ellipse cx="866.2" cy="814.0" rx="3.6" ry="4.4" fill="#2b2f3b" />
<ellipse cx="866.7" cy="814.0" rx="2.0" ry="2.6" fill="#d5d8de" />
<ellipse cx="896.4" cy="796.2" rx="3.6" ry="4.4" fill="#2b2f3b" />
<ellipse cx="896.9" cy="796.2" rx="2.0" ry="2.6" fill="#d5d8de" />
<polygon points="837.3,805.1 839.1,806.0 839.1,808.7 837.3,807.8" fill="#2b2f3b" />
<polygon points="850.2,814.0 856.4,815.8 856.4,817.6 850.2,815.8" fill="#2b2f3b" />
<polygon points="1221.6,697.0 1235.3,690.7 1285.0,711.8 1283.9,720.3 1271.2,724.5 1222.7,702.3" fill="#e4e6eb" />
<path d="M1224.8,692.8 L1224.8,574.6 Q1225.2,557.2 1241.7,556.0 L1260.7,558.1 Q1281.4,562.9 1281.8,589.3 L1281.8,713.9 L1258.6,715.0 L1224.8,694.9 Z" fill="#1e68dc" />
<path d="M1224.8,692.8 L1224.8,574.6 Q1225.2,557.2 1241.7,556.0 Q1258.1,557.7 1258.6,576.7 L1258.6,715.0 Z" fill="#2a7ae6" />
<polygon points="1229.4,576.7 1254.8,590.4 1254.8,707.6 1229.4,693.9" fill="#e9edf4" />
<polygon points="1233.2,585.1 1251.2,594.0 1251.2,614.7 1233.2,605.8" fill="#1f6fe0" />
<text x="0" y="0" font-size="12" font-weight="700" fill="#ffffff" transform="translate(1235,601) matrix(1,0.3,0,1,0,0)">H</text>
<text x="0" y="0" font-size="7" font-weight="700" fill="#ffffff" transform="translate(1244,611) matrix(1,0.3,0,1,0,0)">2</text>
<polygon points="1232.2,614.7 1239.6,617.8 1239.6,633.7 1232.2,630.5" fill="#9fb6d8" />
<polygon points="1244.8,622.1 1251.2,625.2 1251.2,633.7 1244.8,630.5" fill="#2b2f3b" />
<path d="M1236.4,633.7 L1236.4,684.4 Q1237.4,690.7 1238.5,684.4 L1238.5,644.2" fill="none" stroke="#2b2f3b" stroke-width="1.4"/>
<text x="0" y="0" font-size="8" font-weight="700" font-style="italic" fill="#2a6fd8" letter-spacing="0.4" transform="translate(1251,702) rotate(-90)">HYDROGEN</text>
<path d="M1275.0,701.2 L1275.0,587.2 Q1274.4,566.1 1258.6,560.8" fill="none" stroke="#ffffff" stroke-width="1.3"/>
<path d="M1304.0,634.7 L1304.0,572.4 L1309.2,567.2 L1374.7,606.2 L1376.8,614.7" fill="none" stroke="#1f6fe0" stroke-width="7.5" stroke-linejoin="round" stroke-linecap="round"/>
<path d="M1301.8,684.4 L1301.8,663.2 L1309.2,652.7 L1389.5,609.4 L1397.9,610.5 L1401.1,629.5" fill="none" stroke="#1f6fe0" stroke-width="7.5" stroke-linejoin="round" stroke-linecap="round"/>
<path d="M1328.2,651.6 L1357.8,665.4 L1370.5,659.0 L1378.9,640.0 L1391.6,633.7" fill="none" stroke="#1f6fe0" stroke-width="6.5" stroke-linejoin="round" stroke-linecap="round"/>
<polygon points="1362.0,662.2 1412.7,674.9 1418.0,680.1 1400.0,690.7 1361.0,667.5" fill="#2a72dc" />
<ellipse cx="1370.5" cy="650.6" rx="9.0" ry="7.0" fill="#1f6fe0" />
<ellipse cx="1400.0" cy="667.5" rx="8.0" ry="9.0" fill="#2a78e0" />
<ellipse cx="1383.1" cy="635.8" rx="4.0" ry="4.0" fill="#e9eef7" />
<!--/ART-->
<!--LINES-->
<ellipse cx="428" cy="407.7" rx="13.8" ry="9.8" fill="#ee1c25"/>
<polyline points="436.0,412.0 473.0,434.5 688.0,312.0" fill="none" stroke="#ee1c25" stroke-width="2.4" stroke-linejoin="miter"/>
<polygon points="462.5,428.0 455.1,417.2 443.9,423.8" fill="#ee1c25"/>
<polygon points="596.0,364.0 576.9,389.0 552.7,375.0" fill="#ee1c25"/>
<polygon points="694.4,312.0 688.0,308.3 681.6,312.0 688.0,315.7" fill="#ee1c25"/>
<polyline points="901.4,184.0 1070.0,83.0 1204.5,163.0 1261.0,132.0" fill="none" stroke="#ee1c25" stroke-width="2.4" stroke-linejoin="miter"/>
<polygon points="907.6,184.0 901.4,180.4 895.2,184.0 901.4,187.6" fill="#ee1c25"/>
<polygon points="1267.2,132.0 1261.0,128.4 1254.8,132.0 1261.0,135.6" fill="#ee1c25"/>
<polygon points="993.0,128.6 985.6,138.8 975.2,132.8" fill="#ee1c25"/>
<polygon points="1155.0,133.0 1147.6,122.8 1137.2,128.8" fill="#ee1c25"/>
<polygon points="1240.0,144.0 1232.6,154.2 1222.2,148.2" fill="#ee1c25"/>
<polyline points="1118.0,381.0 922.5,498.7 773.8,413.5 578.0,527.7" fill="none" stroke="#ee1c25" stroke-width="2.4" stroke-linejoin="miter"/>
<polygon points="1124.2,381.0 1118.0,377.4 1111.8,381.0 1118.0,384.6" fill="#ee1c25"/>
<polygon points="588.9,527.7 578.0,521.4 567.1,527.7 578.0,534.0" fill="#ee1c25"/>
<polygon points="993.0,456.0 1029.4,447.0 1008.6,435.0" fill="#ee1c25"/>
<polygon points="835.0,449.0 871.4,458.0 850.6,470.0" fill="#ee1c25"/>
<polygon points="688.0,463.0 724.4,454.0 703.6,442.0" fill="#ee1c25"/>
<polyline points="1208.0,399.5 1382.8,497.3 1320.5,533.5 1411.0,585.3" fill="none" stroke="#ee1c25" stroke-width="2.4" stroke-linejoin="miter"/>
<polygon points="1214.2,399.5 1208.0,395.9 1201.8,399.5 1208.0,403.1" fill="#ee1c25"/>
<polygon points="1417.2,585.3 1411.0,581.7 1404.8,585.3 1411.0,588.9" fill="#ee1c25"/>
<polyline points="1024.7,704.7 985.3,727.2 772.5,604.4" fill="none" stroke="#ee1c25" stroke-width="2.4" stroke-linejoin="miter"/>
<polygon points="1030.9,704.7 1024.7,701.1 1018.5,704.7 1024.7,708.3" fill="#ee1c25"/>
<polygon points="783.6,604.4 772.5,598.0 761.4,604.4 772.5,610.8" fill="#ee1c25"/>
<polygon points="994.0,722.5 1013.5,717.8 1002.2,711.2" fill="#ee1c25"/>
<polygon points="872.0,662.5 908.4,671.5 887.6,683.5" fill="#ee1c25"/>
<!--/LINES-->
</svg>

<svg id="logo" width="1600" height="900" viewBox="0 0 1600 900" style="position:absolute;left:0;top:0;">
<g fill="#f01f24">
<path d="M1348,46 H1368.2 V80 C1368.2,88 1362,92.8 1353.5,92.8 C1346.5,92.8 1341.5,89 1339.2,84 L1348.6,81 C1349.6,83.3 1351.2,84.4 1353.3,84.4 C1356.6,84.4 1358.4,82.2 1358.4,79.2 V55.7 H1348 Z"/>
<path fill-rule="evenodd" d="M1377,46 H1399.5 C1407.3,46 1412.2,52 1412.2,59.6 C1412.2,67.4 1407.3,73.2 1399.5,73.2 H1387.2 V92 H1377 Z M1387.2,55.3 V64.6 H1399 C1401.6,64.6 1402.6,62.3 1402.6,60 C1402.6,57.6 1401.6,55.3 1399,55.3 Z"/>
<path d="M1446.3,46 H1430.5 C1421.3,46 1415.6,51.6 1415.6,58.6 C1415.6,63 1417.8,66.3 1420.8,67.9 C1417.2,69.8 1414.8,73.8 1414.8,78.9 C1414.8,86.6 1420.8,92 1430.3,92 H1447.8 V82 H1431 C1427.3,82 1424.9,80.1 1424.9,77.2 C1424.9,74.6 1427,72.8 1430.4,72.8 H1446.3 V63.2 H1430.6 C1427.4,63.2 1425.4,61.6 1425.4,59.3 C1425.4,57 1427.4,55.6 1430.6,55.6 H1446.3 Z"/>
</g>
</svg>
<div id="logotxt" style="position:absolute;left:1457px;top:45.5px;font-size:51.5px;font-weight:900;color:#0d2a5c;line-height:1;white-space:nowrap;letter-spacing:-1px;-webkit-text-stroke:1.2px #0d2a5c;">沅亨</div>
<div id="title">氫能產業圖況</div>

<div class="pill" style="left:107px;top:172px;width:75px;height:33px;">灰氫</div>
<div class="pill" style="left:409px;top:114px;width:74px;height:33px;">綠氫</div>
<div class="pill" style="left:425px;top:343px;width:75px;height:33px;">藍氫</div>
<div class="pill" style="left:685px;top:117px;width:95px;height:33px;">壓縮機</div>
<div class="pill" style="left:1195px;top:736px;width:101px;height:33px;">加氫機</div>

<div class="box" style="left:448px;top:188px;width:208px;height:91px;padding:10px 0 0 11px;">
<div>·化石能源制氫(灰氫)</div>
<div>·工業副產氫(藍氫)</div>
<div>·電解水製氫(綠氫)</div>
</div>

<div class="box" style="left:1250px;top:314px;width:328px;height:130px;padding:6px 0 0 14px;">
<div>·高壓氣氫(長管拖車運輸<span class="d">、</span>管道輸氫)</div>
<div>·低溫液氫</div>
<div>·固態氫儲運</div>
<div>·有機液氫儲運</div>
<div>·氨醇等氫基能源儲運</div>
</div>

<div class="box" style="left:139px;top:555px;width:237px;height:115px;padding:11px 0 0 16px;">
<div>·工業(化工冶煉)</div>
<div>·交通(氫車<span class="d">、</span>氫船<span class="d">、</span>航空)</div>
<div>·氫儲能</div>
<div>·建築(氫熱電聯供)</div>
</div>

<div class="box" style="left:108px;top:692px;width:269px;height:91px;padding:10px 0 0 13px;">
<div>·燃料電池電庫</div>
<div>·空壓機<span class="c">,</span>增壓泵<span class="c">,</span>氫氣循環泵<span class="c">,</span></div>
<div><span style="margin-left:9px"></span>增濕器<span class="c">,</span>儲氣瓶<span class="c">,</span>散熱器</div>
</div>

<div class="box" style="left:1315px;top:723px;width:108px;height:56px;padding:16px 0 0 17px;">
<div>·加氫站</div>
</div>

<!-- iso texts -->
<div class="iso" id="t1" style="font-size:54.5px;letter-spacing:8.4px;transform:translate(208.5px,448.5px) matrix(0.6885,-0.3975,0.866,0.5,0,0);">製氫</div>
<div class="iso" id="t2" style="font-size:50px;letter-spacing:5.3px;transform:translate(797.5px,310px) matrix(0.6885,-0.3975,0.866,0.5,0,0);">氫壓縮</div>
<div class="iso" id="t3" style="font-size:50px;letter-spacing:10.4px;transform:translate(1101px,304.5px) matrix(0.6885,0.3975,-0.866,0.5,0,0);">氫儲運</div>
<div class="iso" id="t4" style="font-size:50px;letter-spacing:9.1px;transform:translate(1042.5px,675.5px) matrix(0.6885,-0.3975,0.866,0.5,0,0);">氫加注</div>
<div class="iso" id="t5" style="-webkit-text-stroke:0.3px #0b2147;font-size:41.8px;letter-spacing:8px;line-height:46.9px;transform:translate(422px,471.3px) matrix(0.6953,0.3854,-0.866,0.5,0,0);">氫能綜合利用<br><span style="margin-left:3.3px">燃料電池動力系統</span></div>

</body>
</html>
